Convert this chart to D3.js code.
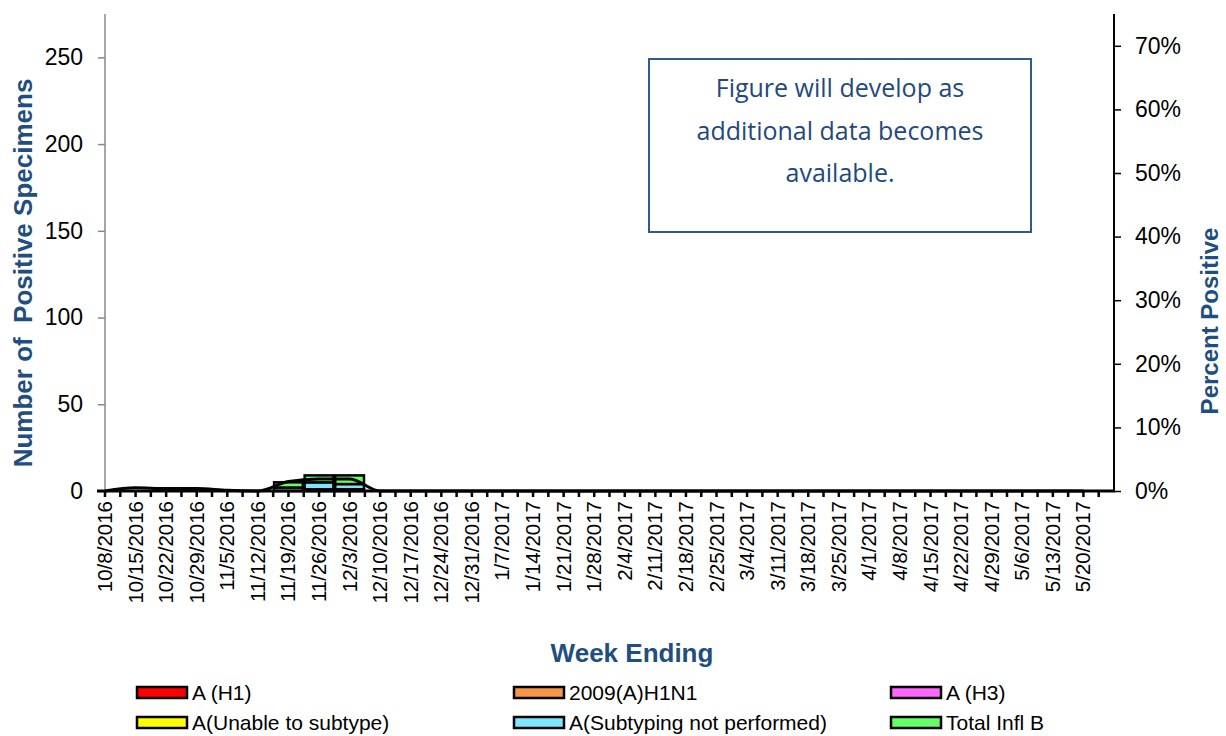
<!DOCTYPE html>
<html><head><meta charset="utf-8">
<script src="https://cdn.jsdelivr.net/npm/d3@7"></script>
<style>body{margin:0;background:#fff}svg{display:block}</style>
</head><body>
<svg id="c" width="1226" height="736"></svg>
<script>
const weeks = ["10/8/2016","10/15/2016","10/22/2016","10/29/2016","11/5/2016","11/12/2016","11/19/2016","11/26/2016","12/3/2016","12/10/2016","12/17/2016","12/24/2016","12/31/2016","1/7/2017","1/14/2017","1/21/2017","1/28/2017","2/4/2017","2/11/2017","2/18/2017","2/25/2017","3/4/2017","3/11/2017","3/18/2017","3/25/2017","4/1/2017","4/8/2017","4/15/2017","4/22/2017","4/29/2017","5/6/2017","5/13/2017","5/20/2017"];
const seriesNames = ["A (H1)","2009(A)H1N1","A (H3)","A(Unable to subtype)","A(Subtyping not performed)","Total Infl B"];
const seriesColors = ["#ff0000","#f79646","#ff66ff","#ffff00","#7fe5ff","#66ff66"];
const aH1      = [0,0,0,0,0,0,0,0,0,0,0,0,0,0,0,0,0,0,0,0,0,0,0,0,0,0,0,0,0,0,0,0,0];
const h1n1     = [0,0,0,0,0,0,0,0,0,0,0,0,0,0,0,0,0,0,0,0,0,0,0,0,0,0,0,0,0,0,0,0,0];
const aH3      = [0,0,0,0,0,0,0,1,1,0,0,0,0,0,0,0,0,0,0,0,0,0,0,0,0,0,0,0,0,0,0,0,0];
const unable   = [0,0,0,0,0,0,0,0,0,0,0,0,0,0,0,0,0,0,0,0,0,0,0,0,0,0,0,0,0,0,0,0,0];
const notPerf  = [0,0,0,0,0,0,2,4,3,0,0,0,0,0,0,0,0,0,0,0,0,0,0,0,0,0,0,0,0,0,0,0,0];
const inflB    = [0,0,0,0,0,0,3,4,5,0,0,0,0,0,0,0,0,0,0,0,0,0,0,0,0,0,0,0,0,0,0,0,0];
const pctPos   = [0,0.005,0.004,0.004,0.001,0,0.015,0.019,0.019,0,0,0,0,0,0,0,0,0,0,0,0,0,0,0,0,0,0,0,0,0,0,0,0];
const leftTicks = [0,50,100,150,200,250];
const rightTicks = [0,0.1,0.2,0.3,0.4,0.5,0.6,0.7];
const noteLines = ["Figure will develop as","additional data becomes","available."];

const svg = d3.select("#c");
const L = 105, R = 1114, T = 14, B = 491;
const blue = "#1f4e80";
const FF = "Arial, Liberation Sans, sans-serif";
const n = weeks.length;
const step = (R - L) / n;
const x = d3.scalePoint().domain(weeks).range([L, R - step]);
const y = d3.scaleLinear().domain([0, 275]).range([B, T]);
const y2 = d3.scaleLinear().domain([0, 0.75]).range([B, T]);

// stacked bars
const allSeries = [aH1, h1n1, aH3, unable, notPerf, inflB];
const rows = weeks.map((w, i) => { const o = {week: w}; seriesNames.forEach((s, k) => o[s] = allSeries[k][i]); return o; });
const stacked = d3.stack().keys(seriesNames)(rows);
const bw = step * 0.94;
const gBars = svg.append("g");
stacked.forEach((layer, k) => {
  gBars.selectAll(null).data(layer.filter(d => d[1] - d[0] > 0)).enter().append("rect")
    .attr("x", d => x(d.data.week) - bw / 2)
    .attr("width", bw)
    .attr("y", d => y(d[1]))
    .attr("height", d => y(d[0]) - y(d[1]))
    .attr("fill", seriesColors[k])
    .attr("stroke", "#000").attr("stroke-width", 2.5);
});

// line
const line = d3.line().x((d, i) => x(weeks[i])).y(d => y2(d)).curve(d3.curveMonotoneX);
svg.append("path").datum(pctPos).attr("d", line).attr("fill", "none").attr("stroke", "#000").attr("stroke-width", 3);

// left axis
const la = svg.append("g").attr("transform", `translate(${L},0)`)
  .call(d3.axisLeft(y).tickValues(leftTicks).tickSize(7).tickPadding(15).tickFormat(d3.format("d")));
la.select(".domain").attr("d", `M0,${T}V${B}`).attr("stroke", "#888").attr("stroke-width", 1.5);
la.selectAll(".tick line").attr("stroke", "#888").attr("stroke-width", 1.5);
la.selectAll("text").attr("font-family", FF).attr("font-size", 23).attr("fill", "#000");

// right axis
const ra = svg.append("g").attr("transform", `translate(${R},0)`)
  .call(d3.axisRight(y2).tickValues(rightTicks).tickSize(7).tickPadding(14).tickFormat(d3.format(".0%")));
ra.select(".domain").attr("d", `M0,${T}V${B}`).attr("stroke", "#000").attr("stroke-width", 2);
ra.selectAll(".tick line").attr("stroke", "#000").attr("stroke-width", 1.5);
ra.selectAll("text").attr("font-family", FF).attr("font-size", 23).attr("fill", "#000");

// bottom axis
const ba = svg.append("g").attr("transform", `translate(0,${B})`);
ba.append("line").attr("x1", L - 8).attr("x2", R + 1).attr("stroke", "#000").attr("stroke-width", 3);
const tickPos = [];
for (let i = 0; i < n; i++) { tickPos.push(x(weeks[i])); tickPos.push(x(weeks[i]) + step / 2); }
ba.selectAll(".tk").data(tickPos).enter().append("line")
  .attr("x1", d => d).attr("x2", d => d).attr("y1", 0).attr("y2", 6)
  .attr("stroke", "#000").attr("stroke-width", 2.5);
ba.selectAll(".lbl").data(weeks).enter().append("text")
  .attr("transform", d => `translate(${x(d) + 7},10) rotate(-90)`)
  .attr("text-anchor", "end")
  .attr("font-family", FF).attr("font-size", 20.5)
  .text(d => d);

// titles
svg.append("text").attr("transform", "translate(32,273) rotate(-90)").attr("text-anchor", "middle")
  .attr("font-family", FF).attr("font-weight", "bold").attr("font-size", 26)
  .attr("fill", blue).style("white-space", "pre").text("Number of  Positive Specimens");
svg.append("text").attr("transform", "translate(1218,321) rotate(-90)").attr("text-anchor", "middle")
  .attr("font-family", FF).attr("font-weight", "bold").attr("font-size", 24)
  .attr("fill", blue).text("Percent Positive");
svg.append("text").attr("x", 632).attr("y", 662).attr("text-anchor", "middle")
  .attr("font-family", FF).attr("font-weight", "bold").attr("font-size", 26)
  .attr("fill", blue).text("Week Ending");

// note box
svg.append("rect").attr("x", 649).attr("y", 59).attr("width", 382).attr("height", 173)
  .attr("fill", "#fff").attr("stroke", "#2f5a8c").attr("stroke-width", 2);
svg.selectAll(".note").data(noteLines).enter().append("text")
  .attr("x", 840).attr("y", (d, i) => 97 + i * 42.5).attr("text-anchor", "middle")
  .attr("font-family", "Open Sans, sans-serif").attr("font-size", 25).attr("fill", "#1f497d")
  .text(d => d);

// legend
const legX = [136, 513, 890], legY = [693, 723];
const lg = svg.selectAll(".leg").data(seriesNames).enter().append("g")
  .attr("transform", (d, i) => `translate(${legX[i % 3]},${legY[Math.floor(i / 3)]})`);
lg.append("rect").attr("x", 1).attr("y", -6).attr("width", 50).attr("height", 11)
  .attr("fill", (d, i) => seriesColors[i]).attr("stroke", "#000").attr("stroke-width", 2.5);
lg.append("text").attr("x", 56).attr("y", 7).attr("font-family", FF)
  .attr("font-size", 21).text(d => d);
</script>
</body></html>
